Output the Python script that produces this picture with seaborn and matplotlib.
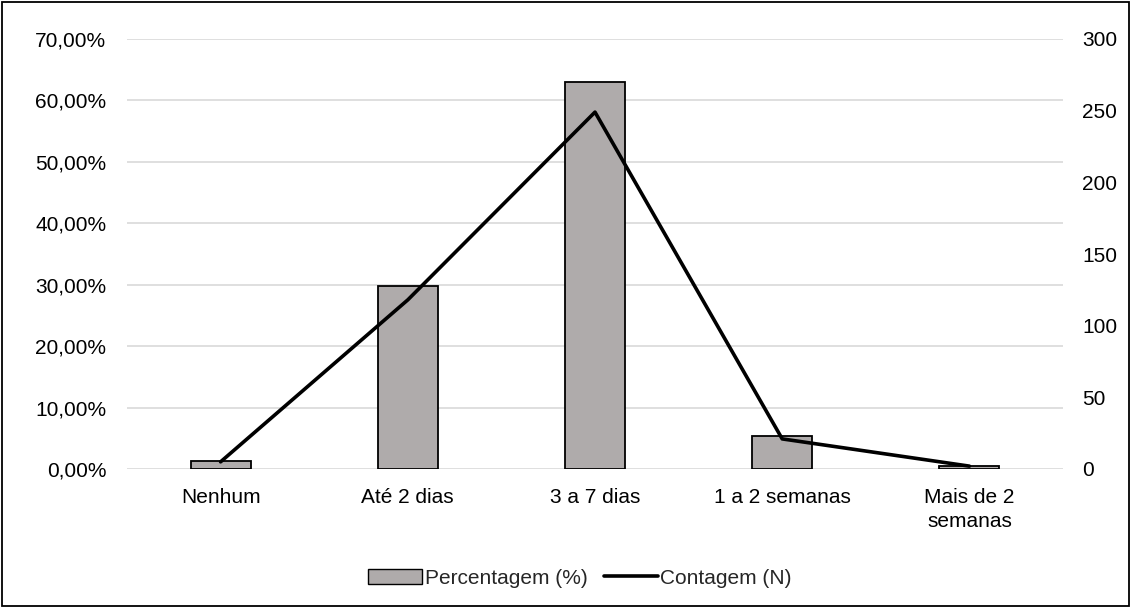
import matplotlib
matplotlib.use("Agg")
import matplotlib.pyplot as plt
import seaborn as sns
import pandas as pd
from matplotlib.patches import Rectangle
from matplotlib.lines import Line2D
from matplotlib.ticker import FuncFormatter

categories = ["Nenhum", "Até 2 dias", "3 a 7 dias", "1 a 2 semanas", "Mais de 2\nsemanas"]
percent = [1.27, 29.87, 63.04, 5.32, 0.51]
counts = [5, 118, 249, 21, 2]

df = pd.DataFrame({"cat": categories, "pct": percent, "n": counts})

sns.set_theme(style="white")
plt.rcParams["font.family"] = ["Liberation Sans", "DejaVu Sans"]

FS = 15

fig = plt.figure(figsize=(11.31, 6.07), dpi=100)
ax = fig.add_axes([127/1131, 1-469/607, (1063-127)/1131, (469-39)/607])

sns.barplot(data=df, x="cat", y="pct", ax=ax, color="#afabab", width=0.32,
            edgecolor="black", linewidth=1.3, saturation=1, zorder=3)
ax.set_ylim(0, 70)
ax.set_yticks(range(0, 71, 10))
ax.yaxis.set_major_formatter(FuncFormatter(lambda v, p: f"{v:.2f}%".replace(".", ",")))
ax.grid(axis="y", color="#d9d9d9", linewidth=1.2, zorder=0)
ax.set_axisbelow(True)
for s in ax.spines.values():
    s.set_visible(False)
ax.set_xlabel("")
ax.set_ylabel("")
ax.tick_params(axis="y", length=0, labelsize=FS, colors="black", pad=15)
ax.tick_params(axis="x", length=0, labelsize=FS, colors="black", pad=14)
ax.set_xlim(-0.5, 4.5)
for t in ax.get_xticklabels():
    t.set_linespacing(1.3)

ax2 = ax.twinx()
sns.lineplot(x=list(range(len(categories))), y=counts, ax=ax2, color="black",
             linewidth=2.6, zorder=4)
ax2.set_ylim(0, 300)
ax2.set_yticks(range(0, 301, 50))
for s in ax2.spines.values():
    s.set_visible(False)
ax2.tick_params(axis="y", length=0, labelsize=FS, colors="black", pad=14)
ax2.set_ylabel("")

handles = [Rectangle((0, 0), 1, 1, facecolor="#afabab", edgecolor="black", linewidth=1),
           Line2D([0], [0], color="black", linewidth=2.6)]
fig.legend(handles, ["Percentagem (%)", "Contagem (N)"], loc="center",
           bbox_to_anchor=(580/1131, 1-578/607), ncol=2, frameon=False,
           fontsize=FS, handlelength=2.6, handletextpad=0.1, columnspacing=0.8)

fig.patches.append(Rectangle((2/1131, 1/607), 1127/1131, 604/607, transform=fig.transFigure,
                             fill=False, edgecolor="black", linewidth=1.3))

fig.savefig("out.png", dpi=100)
